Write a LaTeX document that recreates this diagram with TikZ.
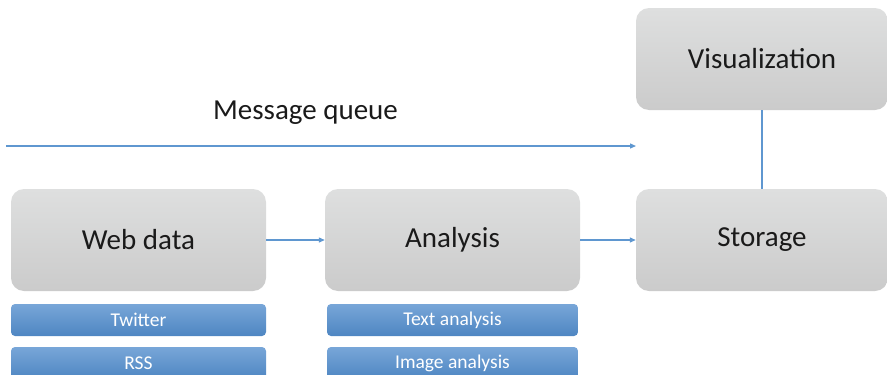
\documentclass[tikz,border=0pt]{standalone}
\usepackage{fontspec}
\setmainfont{Carlito}
\usetikzlibrary{arrows.meta}
\definecolor{lineblue}{HTML}{5F97D0}
\definecolor{graytop}{HTML}{DEDFDF}
\definecolor{graybot}{HTML}{CBCBCB}
\definecolor{bluetop}{HTML}{78A6D8}
\definecolor{bluebot}{HTML}{4E86C2}
\definecolor{txt}{HTML}{1A1A1A}
\tikzset{
  mainbox/.style={rectangle, rounded corners=13pt, top color=graytop, bottom color=graybot,
    draw=none, minimum width=255pt, minimum height=102pt, inner sep=0pt,
    text=txt, font=\fontsize{29}{34}\selectfont},
  subbox/.style={rectangle, rounded corners=4pt, top color=bluetop, bottom color=bluebot,
    draw=none, minimum width=255pt, minimum height=32pt, inner sep=0pt,
    text=white, font=\fontsize{19.5}{23}\selectfont},
  conn/.style={draw=lineblue, line width=1.2pt},
  arr/.style={conn, -{Triangle[length=6pt,width=5pt]}},
}
\begin{document}
\begin{tikzpicture}[x=1pt,y=1pt]
\useasboundingbox (0,0) rectangle (887,-375);
\clip (0,0) rectangle (887,-375);
\node[mainbox] (web) at (138.5,-240) {Web data};
\node[mainbox] (ana) at (452.5,-240) {Analysis};
\node[mainbox, minimum width=252pt] (sto) at (762,-240) {Storage};
\node[mainbox, minimum width=252pt] (vis) at (762,-59) {Visualization};
\node[subbox] (tw) at (138.5,-320) {Twitter};
\node[subbox] (rss) at (138.5,-363) {RSS};
\node[subbox, minimum width=251pt] (ta) at (452.5,-320) {Text analysis};
\node[subbox, minimum width=251pt] (ia) at (452.5,-363) {Image analysis};
\node[text=txt, font=\fontsize{29}{34}\selectfont, inner sep=0pt] (mq) at (305.5,-113) {Message queue};
\coordinate (qs) at (6,-146);
\coordinate (qe) at (636,-146);
\draw[arr] (qs) -- (qe);
\draw[arr] (web.east) -- (ana.west);
\draw[arr] (ana.east) -- (sto.west);
\draw[conn] (vis.south) -- (sto.north);
\end{tikzpicture}
\end{document}
